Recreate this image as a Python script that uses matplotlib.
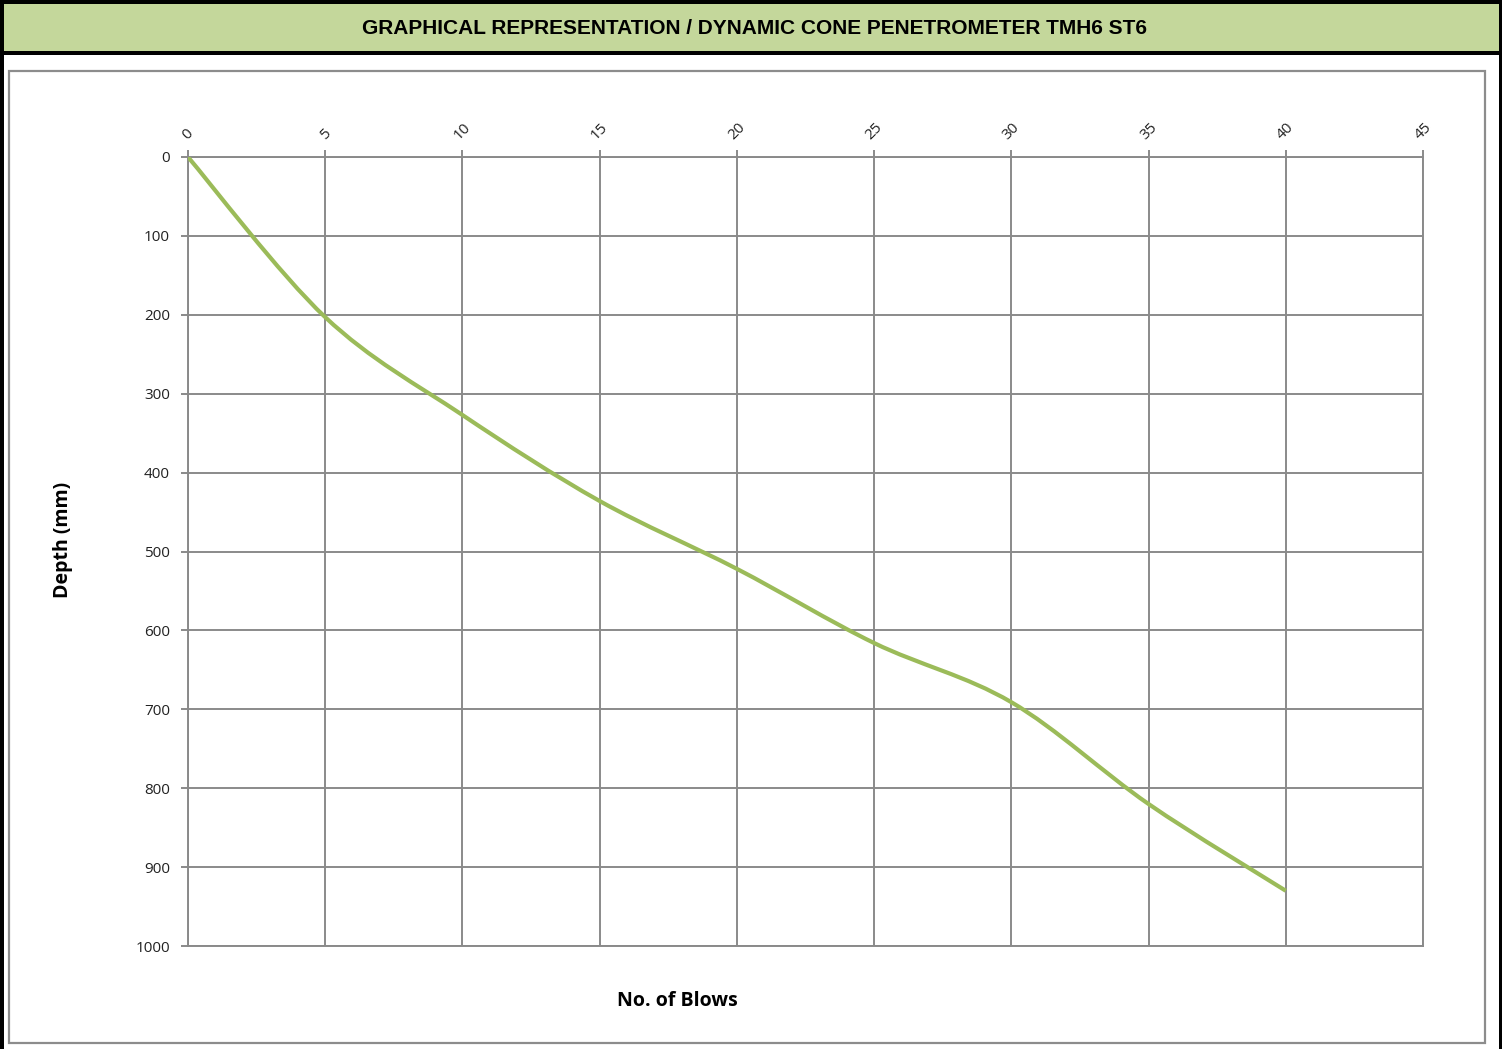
import matplotlib
matplotlib.use("Agg")
import matplotlib.pyplot as plt
from matplotlib.patches import Rectangle, PathPatch
from matplotlib.path import Path
import numpy as np

# ---- data ----
blows = [0, 5, 10, 15, 20, 25, 30, 35, 40]
depth = [0, 203, 327, 436, 522, 616, 691, 820, 930]
x_ticks = [0, 5, 10, 15, 20, 25, 30, 35, 40, 45]
y_ticks = [0, 100, 200, 300, 400, 500, 600, 700, 800, 900, 1000]
title = "GRAPHICAL REPRESENTATION / DYNAMIC CONE PENETROMETER TMH6 ST6"
x_label = "No. of Blows"
y_label = "Depth (mm)"

W, H = 1512, 1049
fig = plt.figure(figsize=(W / 100, H / 100), dpi=100)


def fx(px):
    return px / W


def fy(py):
    return 1 - py / H


grid_col = "#8a8a8a"
line_col = "#9BBB59"

# title band
fig.patches.append(Rectangle((fx(0), fy(53)), fx(1501), 53 / H, transform=fig.transFigure,
                             facecolor="#C4D79B", edgecolor="none", zorder=0))
# chart area gray border
fig.patches.append(Rectangle((fx(8.5), fy(1043)), fx(1485 - 8.5), (1043 - 71) / H,
                             transform=fig.transFigure, facecolor="none",
                             edgecolor="#8c8c8c", lw=1.6, zorder=0))
# black borders
fig.patches.append(Rectangle((fx(0), fy(H)), fx(3.5), 1, transform=fig.transFigure,
                             facecolor="black", edgecolor="none", zorder=5))
fig.patches.append(Rectangle((fx(0), fy(3.5)), fx(1501.5), 3.5 / H, transform=fig.transFigure,
                             facecolor="black", edgecolor="none", zorder=5))
fig.patches.append(Rectangle((fx(1498.5), fy(H)), fx(3), 1, transform=fig.transFigure,
                             facecolor="black", edgecolor="none", zorder=5))
fig.patches.append(Rectangle((fx(0), fy(54.5)), fx(1501.5), 3 / H, transform=fig.transFigure,
                             facecolor="black", edgecolor="none", zorder=5))

fig.text(fx(755), fy(28), title, ha="center", va="center", fontsize=15,
         fontweight="bold", family=["Liberation Sans", "DejaVu Sans"])

ax = fig.add_axes([fx(188), fy(946), fx(1423 - 188), (946 - 157) / H])
ax.set_zorder(3)
ax.patch.set_alpha(0)
ax.set_xlim(0, 45)
ax.set_ylim(1000, 0)
ax.set_xticks(x_ticks)
ax.set_yticks(y_ticks)
ax.xaxis.tick_top()
ax.grid(True, color=grid_col, lw=1.4)
ax.set_axisbelow(True)
for s in ax.spines.values():
    s.set_color(grid_col)
    s.set_linewidth(1.4)
ax.tick_params(axis="both", color=grid_col, length=5, width=1.4,
               labelsize=11, labelcolor="#222222")
for lab in ax.get_xticklabels():
    lab.set_rotation(45)
    lab.set_ha("center")
    lab.set_va("bottom")
    lab.set_family(["Open Sans", "DejaVu Sans"])
for lab in ax.get_yticklabels():
    lab.set_family(["Open Sans", "DejaVu Sans"])
ax.tick_params(axis="x", pad=5)
ax.tick_params(axis="y", pad=8)

# smoothed line (Excel-style Bezier smoothing through the data points)
px = np.array(blows, dtype=float)
py = np.array(depth, dtype=float)
n = len(px)
verts = [(px[0], py[0])]
codes = [Path.MOVETO]
for i in range(n - 1):
    p0 = np.array([px[max(i - 1, 0)], py[max(i - 1, 0)]])
    p1 = np.array([px[i], py[i]])
    p2 = np.array([px[i + 1], py[i + 1]])
    p3 = np.array([px[min(i + 2, n - 1)], py[min(i + 2, n - 1)]])
    c1 = p1 + (p2 - p0) / 6
    c2 = p2 - (p3 - p1) / 6
    verts += [tuple(c1), tuple(c2), tuple(p2)]
    codes += [Path.CURVE4] * 3
ax.add_patch(PathPatch(Path(verts, codes), facecolor="none", edgecolor=line_col,
                       lw=3, capstyle="butt", zorder=3))

fig.text(fx(677), fy(1001), x_label, ha="center", va="center", fontsize=14,
         fontweight="bold", family=["Open Sans", "DejaVu Sans"])
fig.text(fx(63), fy(540), y_label, ha="center", va="center", fontsize=14,
         fontweight="bold", rotation=90, family=["Open Sans", "DejaVu Sans"])

fig.savefig("out.png", dpi=100)
